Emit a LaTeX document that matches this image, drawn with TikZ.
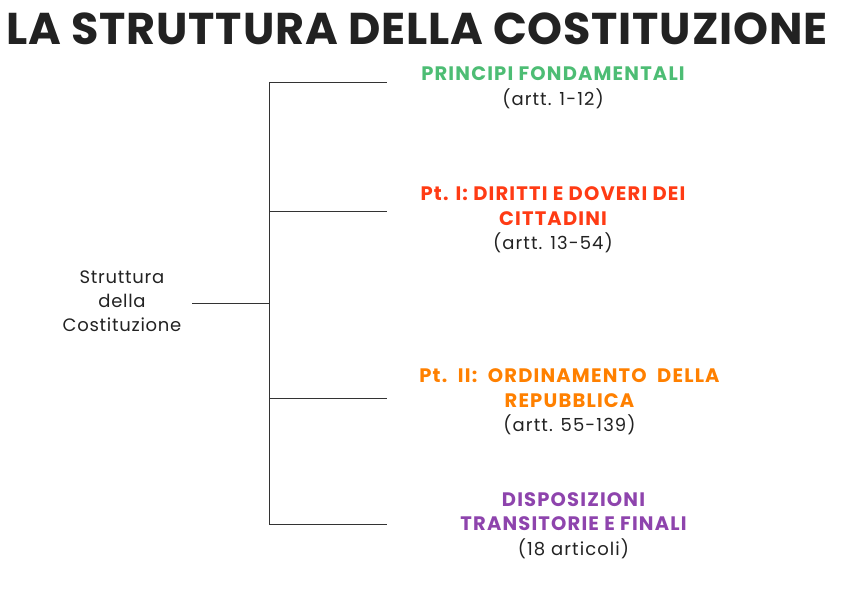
\documentclass[tikz,border=0pt]{standalone}
\usepackage{fontspec}
\setmainfont{Poppins}
\newfontfamily\titlefont[LetterSpace=1.8]{Poppins}
\newfontfamily\lblfont[LetterSpace=6]{Poppins}
\newfontfamily\headfont[LetterSpace=6]{Poppins}
\newfontfamily\rootfont[LetterSpace=4]{Poppins}
\definecolor{cgreen}{HTML}{4DBD74}
\definecolor{cred}{HTML}{FF3B14}
\definecolor{corange}{HTML}{FF8000}
\definecolor{cpurple}{HTML}{8E44AD}
\definecolor{cline}{HTML}{333333}
\definecolor{ctext}{HTML}{222222}
\newcommand{\hd}[2]{\textcolor{#1}{\headfont\fontsize{19.5}{24.5}\selectfont\bfseries #2}}
\begin{document}
\begin{tikzpicture}[x=1pt,y=1pt,
  conn/.style={draw=cline,line width=0.9pt},
  lbl/.style={align=center,inner sep=0pt,text=ctext,font=\lblfont\fontsize{18}{24.5}\selectfont},
  rootlbl/.style={align=center,inner sep=0pt,text=ctext,font=\rootfont\fontsize{18}{24}\selectfont}]
\useasboundingbox (0,0) rectangle (842,596);
\node[inner sep=0pt,text=ctext,font=\titlefont\fontsize{44.5}{50}\selectfont\bfseries] (title) at (417,567) {LA STRUTTURA DELLA COSTITUZIONE};
\node[rootlbl] (root) at (122,295) {Struttura\\della\\Costituzione};
\coordinate (rj) at (192,293);
\coordinate (j) at (269,293);
\coordinate (top) at (269,514);
\coordinate (bot) at (269,72);
\coordinate (b1) at (269,514);
\coordinate (b2) at (269,385);
\coordinate (b3) at (269,198);
\coordinate (b4) at (269,72);
\coordinate (e1) at (387,514);
\coordinate (e2) at (387,385);
\coordinate (e3) at (387,198);
\coordinate (e4) at (387,72);
\draw[conn] (rj) -- (j);
\draw[conn] (top) -- (bot);
\draw[conn] (b1) -- (e1);
\draw[conn] (b2) -- (e2);
\draw[conn] (b3) -- (e3);
\draw[conn] (b4) -- (e4);
\node[lbl] (n1) at (553,508.5) {\hd{cgreen}{PRINCIPI FONDAMENTALI}\\(artt. 1-12)};
\node[lbl] (n2) at (553,376) {\hd{cred}{Pt. I: DIRITTI E DOVERI DEI}\\\hd{cred}{CITTADINI}\\(artt. 13-54)};
\node[lbl] (n3) at (569.5,194) {\hd{corange}{Pt.\ \ II:\ \ ORDINAMENTO\ \ DELLA}\\\hd{corange}{REPUBBLICA}\\(artt. 55-139)};
\node[lbl] (n4) at (573.5,70.5) {\hd{cpurple}{DISPOSIZIONI}\\\hd{cpurple}{TRANSITORIE E FINALI}\\(18 articoli)};
\end{tikzpicture}
\end{document}
